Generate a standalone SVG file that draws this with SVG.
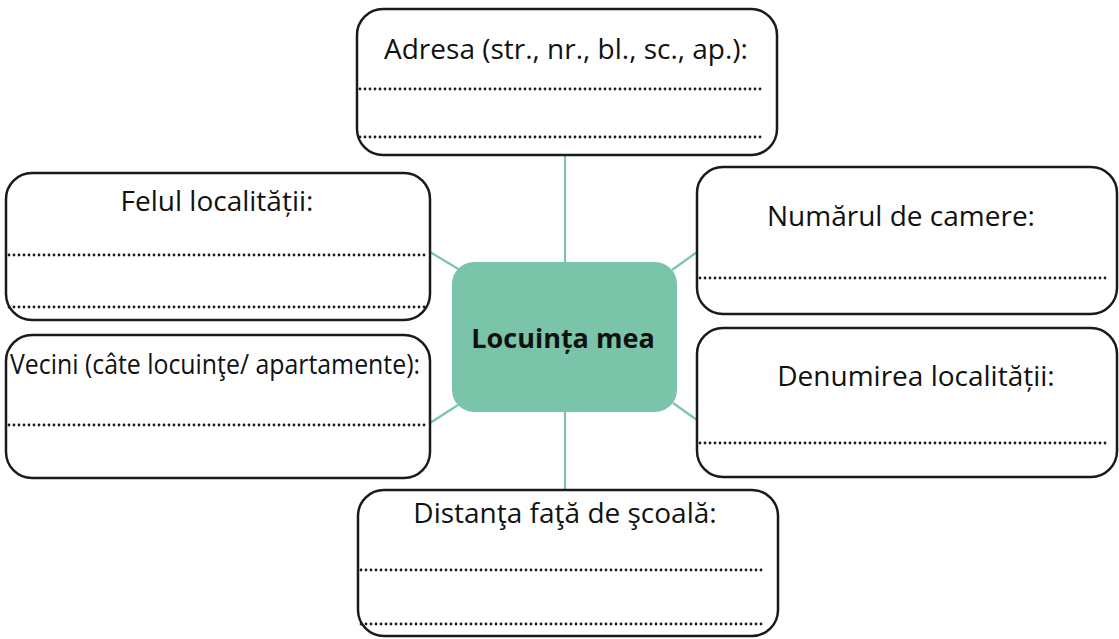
<svg xmlns="http://www.w3.org/2000/svg" width="1119" height="639" viewBox="0 0 1119 639">
<style>
.box{fill:#fff;stroke:#1a1a1a;stroke-width:2.5}
.dots{stroke:#1a1a1a;stroke-width:2.8;stroke-dasharray:0 5;stroke-linecap:round;fill:none}
.lbl{font-family:"Open Sans","Noto Sans","DejaVu Sans",sans-serif;font-size:28px;fill:#111}
.conn{stroke:#7cc4ab;stroke-width:2.2;fill:none}
</style>
<rect width="1119" height="639" fill="#fff"/>
<g id="connectors">
<line class="conn" x1="565" y1="155" x2="565" y2="262"/>
<line class="conn" x1="565" y1="412" x2="565" y2="490"/>
<line class="conn" x1="430" y1="252" x2="460" y2="270"/>
<line class="conn" x1="430" y1="423" x2="458" y2="405"/>
<line class="conn" x1="672" y1="270" x2="697" y2="252"/>
<line class="conn" x1="673" y1="403" x2="697" y2="420"/>
</g>
<g id="center">
<rect x="452" y="262" width="225" height="150" rx="22" fill="#7ac4a9"/>
<text x="563" y="348" text-anchor="middle" style="font-family:'Open Sans','Noto Sans',sans-serif;font-size:27px;font-weight:bold;fill:#111">Locuința mea</text>
</g>
<g id="adresa">
<rect class="box" x="357" y="9" width="420" height="146" rx="26"/>
<text class="lbl" x="566" y="59" text-anchor="middle">Adresa (str., nr., bl., sc., ap.):</text>
<line class="dots" x1="360" y1="89" x2="765" y2="89"/>
<line class="dots" x1="360" y1="137" x2="765" y2="137"/>
</g>
<g id="felul">
<rect class="box" x="6" y="173" width="424" height="147" rx="26"/>
<text class="lbl" x="217" y="211" text-anchor="middle">Felul localității:</text>
<line class="dots" x1="9" y1="255" x2="425" y2="255"/>
<line class="dots" x1="9" y1="307" x2="425" y2="307"/>
</g>
<g id="vecini">
<rect class="box" x="6" y="335" width="424" height="143" rx="26"/>
<text class="lbl" x="10" y="374" textLength="410" lengthAdjust="spacingAndGlyphs">Vecini (câte locuinţe/ apartamente):</text>
<line class="dots" x1="9" y1="425" x2="425" y2="425"/>
</g>
<g id="numarul">
<rect class="box" x="697" y="167" width="420" height="147" rx="26"/>
<text class="lbl" x="901" y="226" text-anchor="middle">Numărul de camere:</text>
<line class="dots" x1="700" y1="278" x2="1108" y2="278"/>
</g>
<g id="denumirea">
<rect class="box" x="697" y="328" width="420" height="149" rx="26"/>
<text class="lbl" x="916" y="386" text-anchor="middle">Denumirea localității:</text>
<line class="dots" x1="700" y1="443" x2="1108" y2="443"/>
</g>
<g id="distanta">
<rect class="box" x="358" y="490" width="420" height="146" rx="26"/>
<text class="lbl" x="565" y="523" text-anchor="middle">Distanţa faţă de şcoală:</text>
<line class="dots" x1="361" y1="570" x2="765" y2="570"/>
<line class="dots" x1="361" y1="624" x2="765" y2="624"/>
</g>
</svg>
